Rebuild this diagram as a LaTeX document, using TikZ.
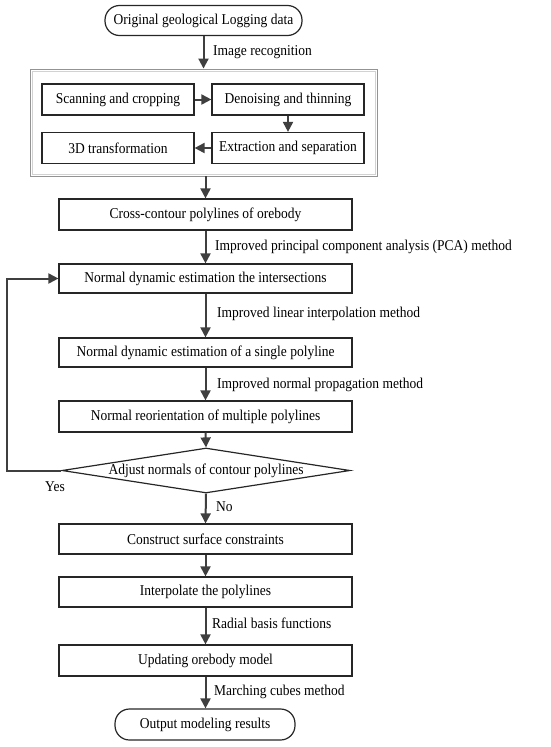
\documentclass[tikz,border=0pt]{standalone}
\usepackage{fontspec}
\setmainfont{Liberation Serif}[FakeStretch=0.9]
\usetikzlibrary{arrows.meta,shapes.geometric}
\definecolor{arrgray}{HTML}{3F3F3F}
\begin{document}
\begin{tikzpicture}[x=1pt,y=-1pt,
  every node/.style={font=\fontsize{15}{18}\selectfont},
  box/.style={draw=black!85,line width=1.2pt,rectangle,minimum width=293pt,minimum height=31pt,inner sep=0pt},
  ibox/.style={draw=black!85,line width=1.2pt,rectangle,minimum width=152pt,minimum height=31pt,inner sep=0pt},
  term/.style={draw=black!85,line width=1.2pt,rectangle,rounded corners=14.5pt,minimum height=30pt,inner sep=0pt},
  arr/.style={draw=arrgray,line width=2pt,-{Triangle[length=10pt,width=10pt]}},
  lab/.style={anchor=west,inner sep=0pt}]
\useasboundingbox (0,0) rectangle (550,747);
% top terminal
\node[term,minimum width=197pt] (top) at (203.5,20.5) {Original geological Logging data};
% group box
\node[draw=gray!35,line width=0.7pt,minimum width=343pt,minimum height=103pt,inner sep=0pt] (groupin) at (203.5,122.5) {};
\node[draw=gray!85,line width=0.9pt,minimum width=347pt,minimum height=107pt,inner sep=0pt] (group) at (203.5,122.5) {};
\node[ibox] (scan) at (118,99.5) {Scanning and cropping};
\node[ibox] (deno) at (288,99.5) {Denoising and thinning};
\node[ibox] (extr) at (288,148) {Extraction and separation};
\node[ibox] (tdt) at (118,148) {3D transformation};
% main boxes
\node[box] (cross) at (205.5,214.5) {Cross-contour polylines of orebody};
\node[box,minimum height=29pt] (inter) at (205.5,278.5) {Normal dynamic estimation the intersections};
\node[box,minimum height=29pt] (single) at (205.5,352.5) {Normal dynamic estimation of a single polyline};
\node[box] (reor) at (205.5,416.5) {Normal reorientation of multiple polylines};
\node[diamond,draw=black!85,line width=1.2pt,aspect=6.4,minimum width=288pt,minimum height=45pt,inner sep=0pt] (dia) at (206,470.5) {};
\node (diatext) at (dia.center) {Adjust normals of contour polylines};
\node[box,minimum height=30pt] (constr) at (205.5,539) {Construct surface constraints};
\node[box,minimum height=30pt] (interp) at (205.5,592) {Interpolate the polylines};
\node[box] (upd) at (205.5,660.5) {Updating orebody model};
\node[term,minimum width=180pt,minimum height=31pt] (out) at (205,724.5) {Output modeling results};
% connectors
\draw[arr] (top.south) -- (top.south |- group.north);
\draw[arr] (scan.east) -- (deno.west);
\draw[arr] (deno.south) -- (extr.north);
\draw[arr] (extr.west) -- (tdt.east);
\draw[arr] (group.south -| cross.north) -- (cross.north);
\draw[arr] (cross) -- (inter);
\draw[arr] (inter) -- (single);
\draw[arr] (single) -- (reor);
\draw[arr] (reor.south) -- (dia.north);
\draw[arr] (dia.south) -- (constr.north);
\draw[arr] (constr) -- (interp);
\draw[arr] (interp) -- (upd);
\draw[arr] (upd.south) -- (out.north -| upd.south);
\coordinate (fb) at (7,470.5);
\draw[arr] (dia.west) -- (fb) |- (inter.west);
% labels
\node[lab] (l1) at (213,52) {Image recognition};
\node[lab] (l2) at (215,247) {Improved principal component analysis (PCA) method};
\node[lab] (l3) at (217,314) {Improved linear interpolation method};
\node[lab] (l4) at (217,385) {Improved normal propagation method};
\node[lab] (l5) at (216,507) {No};
\node (l6) at (55,487) {Yes};
\node[lab] (l7) at (212,623) {Radial basis functions};
\node[lab] (l8) at (214,692) {Marching cubes method};
\end{tikzpicture}
\end{document}
